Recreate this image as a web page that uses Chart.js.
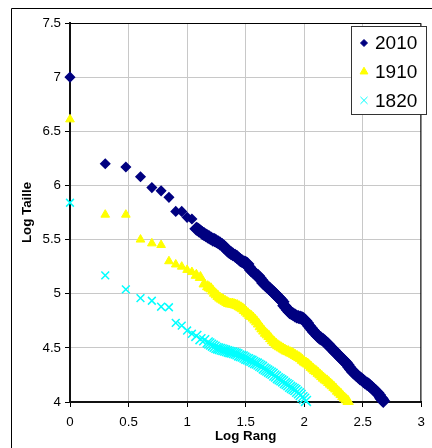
<!DOCTYPE html>
<html>
<head>
<meta charset="utf-8">
<script src="https://cdn.jsdelivr.net/npm/chart.js@4.4.0/dist/chart.umd.min.js"></script>
<style>
  html, body { margin: 0; padding: 0; background: #fff; }
  canvas { display: block; }
</style>
</head>
<body>
<canvas id="chart" width="432" height="448"></canvas>
<script>
// log10(rang) / log10(taille)
const logRang2010 = [
  0, 0.301, 0.477, 0.602, 0.699, 0.778, 0.845, 0.903, 0.954, 1.0,
  1.041, 1.079, 1.09, 1.10, 1.115, 1.13, 1.145, 1.16, 1.175, 1.19,
  1.205, 1.22, 1.235, 1.25, 1.265, 1.28, 1.30, 1.315, 1.33, 1.345,
  1.36, 1.375, 1.39, 1.41, 1.425, 1.44, 1.455, 1.47, 1.485, 1.50,
  1.515, 1.53, 1.545, 1.56, 1.575, 1.59, 1.605, 1.62, 1.635, 1.65,
  1.665, 1.68, 1.695, 1.71, 1.725, 1.74, 1.755, 1.77, 1.785, 1.80,
  1.815, 1.83, 1.845, 1.86, 1.875, 1.89, 1.905, 1.92, 1.935, 1.95,
  1.965, 1.98, 1.995, 2.01, 2.025, 2.04, 2.055, 2.07, 2.085, 2.10,
  2.115, 2.13, 2.145, 2.16, 2.175, 2.19, 2.205, 2.22, 2.235, 2.25,
  2.265, 2.28, 2.295, 2.31, 2.325, 2.34, 2.355, 2.37, 2.385, 2.40,
  2.415, 2.43, 2.445, 2.46, 2.475, 2.49, 2.505, 2.52, 2.535, 2.55,
  2.565, 2.58, 2.595, 2.61, 2.625, 2.64, 2.655, 2.665, 2.675];
const logTaille2010 = [
  7.0, 6.20, 6.17, 6.08, 5.98, 5.95, 5.89, 5.76, 5.76, 5.705,
  5.69, 5.60, 5.595, 5.585, 5.575, 5.56, 5.55, 5.54, 5.53, 5.52,
  5.51, 5.50, 5.495, 5.485, 5.475, 5.465, 5.45, 5.435, 5.42, 5.40,
  5.385, 5.375, 5.365, 5.35, 5.34, 5.325, 5.31, 5.30, 5.29, 5.285,
  5.275, 5.245, 5.22, 5.205, 5.19, 5.175, 5.165, 5.145, 5.125, 5.10,
  5.085, 5.07, 5.055, 5.04, 5.025, 5.01, 4.995, 4.975, 4.96, 4.945,
  4.925, 4.89, 4.87, 4.85, 4.83, 4.82, 4.81, 4.80, 4.79, 4.785,
  4.78, 4.775, 4.765, 4.75, 4.73, 4.705, 4.685, 4.665, 4.645, 4.63,
  4.61, 4.595, 4.585, 4.575, 4.56, 4.545, 4.53, 4.51, 4.495, 4.48,
  4.46, 4.445, 4.43, 4.41, 4.395, 4.38, 4.365, 4.345, 4.32, 4.30,
  4.28, 4.265, 4.25, 4.235, 4.22, 4.21, 4.195, 4.18, 4.17, 4.16,
  4.145, 4.13, 4.115, 4.10, 4.085, 4.065, 4.04, 4.025, 4.01];

const logRang1910 = [
  0, 0.301, 0.477, 0.602, 0.699, 0.778, 0.845, 0.903, 0.954, 1.0,
  1.041, 1.079, 1.114, 1.146, 1.176, 1.19, 1.205, 1.22, 1.235, 1.25,
  1.265, 1.28, 1.295, 1.31, 1.325, 1.34, 1.355, 1.37, 1.385, 1.40,
  1.415, 1.43, 1.445, 1.46, 1.475, 1.49, 1.505, 1.52, 1.535, 1.55,
  1.565, 1.58, 1.595, 1.61, 1.625, 1.64, 1.655, 1.67, 1.685, 1.70,
  1.715, 1.73, 1.745, 1.76, 1.775, 1.79, 1.805, 1.82, 1.835, 1.85,
  1.865, 1.88, 1.895, 1.91, 1.925, 1.94, 1.955, 1.97, 1.985, 2.00,
  2.015, 2.03, 2.045, 2.06, 2.075, 2.09, 2.105, 2.12, 2.135, 2.15,
  2.165, 2.18, 2.195, 2.21, 2.225, 2.24, 2.255, 2.27, 2.285, 2.30,
  2.315, 2.33, 2.345, 2.36, 2.375];
const logTaille1910 = [
  6.61, 5.73, 5.73, 5.50, 5.465, 5.45, 5.30, 5.27, 5.25, 5.22,
  5.20, 5.17, 5.15, 5.09, 5.065, 5.055, 5.045, 5.025, 5.005, 4.99,
  4.975, 4.96, 4.95, 4.94, 4.93, 4.92, 4.91, 4.905, 4.905, 4.90,
  4.895, 4.89, 4.88, 4.87, 4.86, 4.845, 4.83, 4.815, 4.80, 4.79,
  4.775, 4.757, 4.74, 4.72, 4.695, 4.675, 4.655, 4.635, 4.62, 4.605,
  4.585, 4.565, 4.55, 4.535, 4.52, 4.51, 4.50, 4.49, 4.48, 4.47,
  4.465, 4.455, 4.45, 4.44, 4.43, 4.42, 4.41, 4.40, 4.385, 4.37,
  4.36, 4.35, 4.335, 4.32, 4.305, 4.29, 4.28, 4.265, 4.25, 4.235,
  4.22, 4.205, 4.195, 4.18, 4.165, 4.15, 4.135, 4.12, 4.10, 4.085,
  4.07, 4.05, 4.035, 4.02, 4.005];

const logRang1820 = [
  0, 0.301, 0.477, 0.602, 0.699, 0.778, 0.845, 0.903, 0.954, 1.0,
  1.041, 1.079, 1.114, 1.146, 1.176, 1.19, 1.205, 1.22, 1.235, 1.25,
  1.265, 1.28, 1.295, 1.31, 1.325, 1.34, 1.355, 1.37, 1.385, 1.40,
  1.415, 1.43, 1.445, 1.46, 1.475, 1.49, 1.505, 1.52, 1.535, 1.55,
  1.565, 1.58, 1.595, 1.61, 1.625, 1.64, 1.655, 1.67, 1.685, 1.70,
  1.715, 1.73, 1.745, 1.76, 1.775, 1.79, 1.805, 1.82, 1.835, 1.85,
  1.865, 1.88, 1.895, 1.91, 1.925, 1.94, 1.955, 1.97, 1.985, 2.00,
  2.015];
const logTaille1820 = [
  5.84, 5.17, 5.04, 4.96, 4.935, 4.88, 4.875, 4.73, 4.705, 4.66,
  4.63, 4.61, 4.58, 4.57, 4.55, 4.54, 4.53, 4.52, 4.51, 4.50,
  4.495, 4.49, 4.485, 4.48, 4.475, 4.47, 4.465, 4.46, 4.458, 4.452,
  4.447, 4.44, 4.43, 4.425, 4.42, 4.41, 4.40, 4.395, 4.385, 4.38,
  4.37, 4.36, 4.355, 4.345, 4.335, 4.325, 4.31, 4.30, 4.29, 4.28,
  4.27, 4.26, 4.245, 4.235, 4.22, 4.21, 4.20, 4.19, 4.175, 4.165,
  4.155, 4.14, 4.13, 4.12, 4.11, 4.095, 4.08, 4.065, 4.045, 4.03,
  4.01];

const seriesLabels = ['2010', '1910', '1820'];
const xTicks = [0, 0.5, 1, 1.5, 2, 2.5, 3];
const yTicks = [4, 4.5, 5, 5.5, 6, 6.5, 7, 7.5];

const FONT = "'Liberation Sans', Arial, sans-serif";
Chart.defaults.font.family = FONT;
Chart.defaults.font.size = 13.3;
Chart.defaults.color = '#000';

const pairs = (xs, ys) => xs.map((x, i) => ({ x: x, y: ys[i] }));

// markers overlap into a thick band where the ranks get dense (x > ~1.08)
const markerSize = (small, big) => c => (c.raw && c.raw.x > 1.07 ? big : small);

// outer frame of the excel chart object
const framePlugin = {
  id: 'frame',
  beforeDraw(chart) {
    const ctx = chart.ctx;
    ctx.save();
    ctx.fillStyle = '#fff';
    ctx.fillRect(0, 0, chart.width, chart.height);
    ctx.strokeStyle = '#000';
    ctx.lineWidth = 1;
    ctx.beginPath();
    ctx.moveTo(11.5, chart.height);
    ctx.lineTo(11.5, 8.5);
    ctx.lineTo(chart.width, 8.5);
    ctx.stroke();
    ctx.restore();
  },
  beforeDatasetsDraw(chart) {
    const { left, top, right, bottom } = chart.chartArea;
    const ctx = chart.ctx;
    ctx.save();
    ctx.strokeStyle = '#000';
    ctx.lineWidth = 1;
    ctx.beginPath();
    ctx.moveTo(left, top + 0.5);
    ctx.lineTo(right - 0.5, top + 0.5);
    ctx.lineTo(right - 0.5, bottom);
    ctx.stroke();
    ctx.restore();
  },
};

const legendRadius = [3.5, 4.5, 5];

const boxLegend = {
  id: 'boxLegend',
  afterDraw(chart) {
    const ctx = chart.ctx;
    ctx.save();
    ctx.fillStyle = '#fff';
    ctx.fillRect(351, 26, 75, 88);
    ctx.strokeStyle = '#333';
    ctx.lineWidth = 1;
    ctx.strokeRect(351.5, 26.5, 75, 88);
    chart.data.datasets.forEach((ds, i) => {
      const y = 43 + i * 28.7;
      ctx.fillStyle = ds.backgroundColor;
      ctx.strokeStyle = ds.borderColor;
      ctx.lineWidth = 1;
      Chart.helpers.drawPoint(ctx, {
        pointStyle: ds.pointStyle,
        radius: legendRadius[i],
        borderWidth: 1,
        rotation: 0,
      }, 364, y);
      ctx.fillStyle = '#000';
      ctx.font = '19px ' + FONT;
      ctx.textBaseline = 'middle';
      ctx.textAlign = 'left';
      ctx.fillText(ds.label, 375, y + 1);
    });
    ctx.restore();
  },
};

new Chart(document.getElementById('chart'), {
  type: 'scatter',
  data: {
    datasets: [
      {
        label: seriesLabels[0],
        data: pairs(logRang2010, logTaille2010),
        pointStyle: 'rectRot',
        radius: markerSize(4.5, 6),
        backgroundColor: '#000080',
        borderColor: '#000080',
        borderWidth: 1.5,
      },
      {
        label: seriesLabels[1],
        data: pairs(logRang1910, logTaille1910),
        pointStyle: 'triangle',
        radius: markerSize(5, 6),
        backgroundColor: '#ffff00',
        borderColor: '#ffff00',
        borderWidth: 1,
      },
      {
        label: seriesLabels[2],
        data: pairs(logRang1820, logTaille1820),
        pointStyle: 'crossRot',
        radius: markerSize(5.5, 7),
        backgroundColor: '#00ffff',
        borderColor: '#00ffff',
        borderWidth: 1.5,
      },
    ],
  },
  options: {
    responsive: false,
    animation: false,
    events: [],
    clip: false,
    layout: {
      padding: { left: 11, top: 23, right: 4, bottom: 0 },
    },
    plugins: {
      legend: { display: false },
      tooltip: { enabled: false },
    },
    scales: {
      x: {
        type: 'linear',
        min: 0,
        max: 3,
        afterBuildTicks: scale => { scale.ticks = xTicks.map(v => ({ value: v })); },
        afterFit: scale => { scale.height = 46; },
        grid: { color: '#c8c8c8', tickColor: '#000', tickLength: 5, lineWidth: 1 },
        border: { color: '#111', width: 2 },
        ticks: {
          color: '#000',
          padding: 7,
          maxRotation: 0,
          font: { family: FONT, size: 13.3 },
          callback: v => String(v),
        },
        title: {
          display: true,
          text: 'Log Rang',
          color: '#000',
          font: { family: FONT, size: 13.3, weight: 'bold' },
          padding: { top: 0, bottom: 4 },
        },
      },
      y: {
        type: 'linear',
        min: 4,
        max: 7.5,
        afterBuildTicks: scale => { scale.ticks = yTicks.map(v => ({ value: v })); },
        afterFit: scale => { scale.width = 59; },
        grid: { color: '#c8c8c8', tickColor: '#000', tickLength: 5, lineWidth: 1 },
        border: { color: '#111', width: 2 },
        ticks: {
          color: '#000',
          padding: 4,
          font: { family: FONT, size: 13.3 },
          callback: v => String(v),
        },
        title: {
          display: true,
          text: 'Log Taille',
          color: '#000',
          font: { family: FONT, size: 13.3, weight: 'bold' },
          padding: { top: 8, bottom: 0 },
        },
      },
    },
  },
  plugins: [framePlugin, boxLegend],
});
</script>
</body>
</html>
